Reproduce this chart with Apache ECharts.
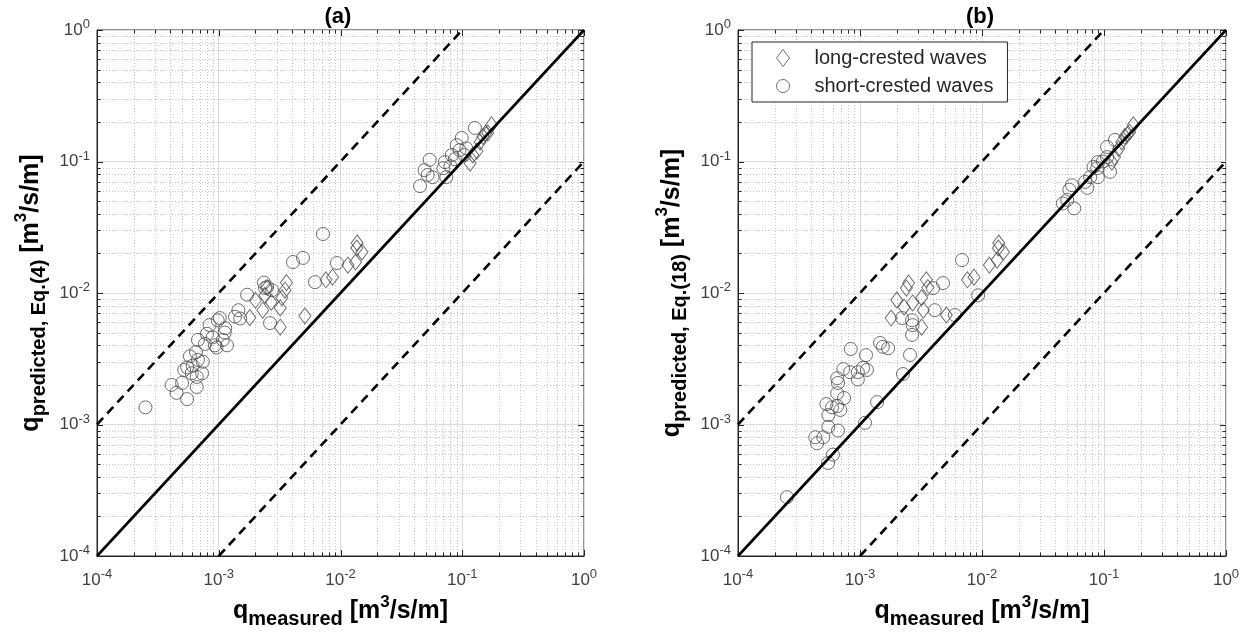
<!DOCTYPE html>
<html>
<head>
<meta charset="utf-8">
<script src="https://cdn.jsdelivr.net/npm/echarts@6/dist/echarts.min.js"></script>
<style>
  html, body { margin: 0; padding: 0; background: #fff; }
  #chart { width: 1251px; height: 644px; }
</style>
</head>
<body>
<div id="chart"></div>
<script>
const FONT = '"Liberation Sans", Arial, Helvetica, sans-serif';

// Axis range and decade ticks (both panels share the same log-log frame)
const AXIS_MIN = 1e-4;
const AXIS_MAX = 1;
const decadeTicks = [1e-4, 1e-3, 1e-2, 1e-1, 1];
const panelTitles = ['(a)', '(b)'];
const predictedLabels = ['Eq.(4)', 'Eq.(18)'];
const seriesNames = ['long-crested waves', 'short-crested waves'];

// Long-crested waves: measured overtopping discharge (same tests in both panels)
const longMeasured = [1.8e-3, 2.0e-3, 2.3e-3, 2.4e-3, 2.5e-3, 2.7e-3, 3.2e-3, 3.2e-3, 3.3e-3, 3.5e-3,
  3.6e-3, 5.1e-3, 7.6e-3, 8.6e-3, 1.15e-2, 1.33e-2, 1.36e-2, 1.37e-2, 1.5e-2,
  0.116, 0.122, 0.132, 0.14, 0.148, 0.155, 0.162, 0.174];
// ... predicted with Eq.(4)
const longPredictedA = [6.5e-3, 8.8e-3, 7.4e-3, 9.6e-3, 1.1e-2, 8.5e-3, 7.7e-3, 5.5e-3, 9.2e-3, 1.05e-2,
  1.2e-2, 6.7e-3, 1.26e-2, 1.32e-2, 1.63e-2, 1.72e-2, 2.2e-2, 2.4e-2, 2.05e-2,
  0.097, 0.112, 0.12, 0.141, 0.155, 0.163, 0.165, 0.19];
// ... predicted with Eq.(18)
const longPredictedB = [6.45e-3, 8.85e-3, 7.8e-3, 1.09e-2, 1.19e-2, 8.4e-3, 9.2e-3, 5.5e-3, 7.4e-3, 1.26e-2,
  1.1e-2, 6.8e-3, 1.26e-2, 1.32e-2, 1.63e-2, 1.78e-2, 2.2e-2, 2.4e-2, 2.05e-2,
  0.099, 0.108, 0.125, 0.141, 0.155, 0.16, 0.167, 0.19];

// Short-crested waves, [measured, predicted Eq.(4)]
const shortCrestedA = [
  [2.5e-4, 1.35e-3], [4.1e-4, 2.0e-3], [4.5e-4, 1.74e-3], [5.0e-4, 2.07e-3], [5.5e-4, 1.56e-3],
  [6.6e-4, 1.93e-3], [5.2e-4, 2.6e-3], [5.5e-4, 2.72e-3], [6.0e-4, 2.45e-3], [6.1e-4, 2.8e-3],
  [6.6e-4, 2.3e-3], [6.75e-4, 3.1e-3], [7.3e-4, 2.45e-3], [7.4e-4, 3.0e-3], [5.8e-4, 3.3e-3],
  [6.5e-4, 3.55e-3], [6.75e-4, 4.4e-3], [7.7e-4, 4.1e-3], [8.0e-4, 4.9e-3], [8.4e-4, 5.7e-3],
  [8.9e-4, 4.6e-3], [9.6e-4, 3.85e-3], [9.8e-4, 6.2e-3], [1.08e-3, 4.4e-3], [1.12e-3, 5.0e-3],
  [1.17e-3, 4.0e-3], [1.02e-3, 6.45e-3], [1.13e-3, 5.4e-3], [9.3e-4, 4.0e-3], [1.36e-3, 6.6e-3],
  [1.45e-3, 7.4e-3], [1.5e-3, 6.4e-3], [1.71e-3, 9.7e-3], [2.4e-3, 1.09e-2], [2.5e-3, 1.11e-2],
  [2.74e-3, 1.05e-2], [2.35e-3, 1.2e-2], [2.64e-3, 5.9e-3], [4.07e-3, 1.72e-2], [4.92e-3, 1.85e-2],
  [6.18e-3, 1.21e-2], [7.18e-3, 2.81e-2], [9.36e-3, 1.69e-2],
  [4.5e-2, 6.5e-2], [4.9e-2, 8.6e-2], [5.2e-2, 7.9e-2], [5.4e-2, 0.103], [5.7e-2, 7.6e-2],
  [7.0e-2, 8.9e-2], [7.2e-2, 9.9e-2], [7.4e-2, 7.6e-2], [8.0e-2, 9.2e-2], [8.2e-2, 0.112],
  [8.7e-2, 0.104], [9.0e-2, 0.133], [9.5e-2, 0.122], [9.9e-2, 0.151], [0.104, 0.112],
  [0.108, 0.126], [0.127, 0.18]
];

// Short-crested waves, [measured, predicted Eq.(18)]
const shortCrestedB = [
  [2.52e-4, 2.8e-4], [4.3e-4, 8.0e-4], [4.45e-4, 7.2e-4], [5.0e-4, 8.0e-4], [5.47e-4, 5.1e-4],
  [6.0e-4, 5.9e-4], [5.5e-4, 9.6e-4], [6.6e-4, 9.0e-4], [5.5e-4, 1.18e-3], [5.3e-4, 1.43e-3],
  [5.9e-4, 1.35e-3], [6.5e-4, 1.38e-3], [6.9e-4, 1.29e-3], [7.4e-4, 1.59e-3], [6.5e-4, 1.73e-3],
  [6.6e-4, 2.07e-3], [6.5e-4, 2.25e-3], [7.3e-4, 2.64e-3], [8.3e-4, 2.5e-3], [9.6e-4, 2.5e-3],
  [9.6e-4, 2.2e-3], [1.14e-3, 2.6e-3], [1.06e-3, 2.7e-3], [8.4e-4, 3.75e-3], [1.12e-3, 3.37e-3],
  [1.38e-3, 1.48e-3], [1.1e-3, 1.03e-3], [1.46e-3, 4.17e-3], [1.54e-3, 3.9e-3], [1.7e-3, 3.8e-3],
  [2.25e-3, 2.42e-3], [2.57e-3, 3.38e-3], [2.67e-3, 4.8e-3], [2.7e-3, 5.7e-3], [2.67e-3, 6.2e-3],
  [2.21e-3, 6.45e-3], [3.97e-3, 1.09e-2], [4.79e-3, 1.19e-2], [4.1e-3, 7.4e-3], [6.0e-3, 6.8e-3],
  [9.3e-3, 9.6e-3], [6.86e-3, 1.78e-2],
  [4.6e-2, 4.8e-2], [5.0e-2, 5.1e-2], [5.46e-2, 6.6e-2], [5.2e-2, 6.1e-2], [5.7e-2, 4.4e-2],
  [7.3e-2, 6.3e-2], [7.0e-2, 7.0e-2], [7.7e-2, 7.6e-2], [8.2e-2, 9.1e-2], [8.9e-2, 9.9e-2],
  [8.9e-2, 7.6e-2], [0.098, 0.1], [0.106, 0.108], [0.106, 0.129], [0.112, 0.0835],
  [0.123, 0.146], [0.088, 0.089]
];

// Perfect agreement and factor-of-10 bands
const parityLine = [[1e-4, 1e-4], [1, 1]];
const upperBand = [[1e-4, 1e-3], [0.1, 1]];
const lowerBand = [[1e-3, 1e-4], [1, 0.1]];

// Tick positions 1..9 x 10^n for the minor grid
const gridTicks = [];
decadeTicks.forEach((d, i) => {
  gridTicks.push(d);
  if (i < decadeTicks.length - 1) for (let k = 2; k <= 9; k++) gridTicks.push(k * d);
});

const zip = (xs, ys) => xs.map((x, i) => [x, ys[i]]);
const crisp = v => Math.round(v) + 0.5;

const AXIS_COLOR = '#262626';
const LABEL_COLOR = '#404040';
const MARK_COLOR = '#4a4a4a';

// Minor dotted grid plus inward ticks on all four sides of the box
function renderFrame(params, api) {
  const v = api.value(0);
  const major = decadeTicks.some(d => Math.abs(v / d - 1) < 1e-6);
  const b = api.coord([v, AXIS_MIN]), t = api.coord([v, AXIS_MAX]);
  const l = api.coord([AXIS_MIN, v]), r = api.coord([AXIS_MAX, v]);
  const x = crisp(b[0]), y = crisp(l[1]);
  const len = major ? 6 : 3.5;
  const children = [];
  if (!major) {
    const dot = { stroke: '#c4c4c4', lineWidth: 1, lineDash: [1, 2] };
    children.push({ type: 'line', shape: { x1: x, y1: b[1], x2: x, y2: t[1] }, style: dot });
    children.push({ type: 'line', shape: { x1: l[0], y1: y, x2: r[0], y2: y }, style: dot });
  }
  const tk = { stroke: AXIS_COLOR, lineWidth: 1 };
  children.push(
    { type: 'line', shape: { x1: x, y1: b[1], x2: x, y2: b[1] - len }, style: tk },
    { type: 'line', shape: { x1: x, y1: t[1], x2: x, y2: t[1] + len }, style: tk },
    { type: 'line', shape: { x1: l[0], y1: y, x2: l[0] + len, y2: y }, style: tk },
    { type: 'line', shape: { x1: r[0], y1: y, x2: r[0] - len, y2: y }, style: tk }
  );
  return { type: 'group', children };
}

const tickLabel = {
  color: LABEL_COLOR,
  fontFamily: FONT,
  formatter: v => '{b|10}{e|' + Math.round(Math.log10(v)) + '}',
  rich: {
    b: { fontFamily: FONT, fontSize: 17, color: LABEL_COLOR, lineHeight: 24 },
    e: { fontFamily: FONT, fontSize: 13, color: LABEL_COLOR, lineHeight: 14, verticalAlign: 'top' }
  }
};

const nameRich = {
  q: { fontFamily: FONT, fontSize: 25, fontWeight: 'bold', color: '#000', lineHeight: 36 },
  s: { fontFamily: FONT, fontSize: 20, fontWeight: 'bold', color: '#000', lineHeight: 19, verticalAlign: 'bottom' },
  p: { fontFamily: FONT, fontSize: 17, fontWeight: 'bold', color: '#000', lineHeight: 21, verticalAlign: 'top' }
};

const grids = [
  { left: 97, top: 30, width: 487, height: 526 },
  { left: 738, top: 30, width: 488, height: 526 }
];

function logAxis(i) {
  return {
    type: 'log', logBase: 10, gridIndex: i, min: AXIS_MIN, max: AXIS_MAX,
    axisLine: { show: true, lineStyle: { color: AXIS_COLOR, width: 1 } },
    axisTick: { show: false },
    minorTick: { show: false },
    splitLine: { show: true, lineStyle: { color: '#dcdcdc', width: 1 } }
  };
}

const xAxes = grids.map((g, i) => Object.assign(logAxis(i), {
  axisLabel: Object.assign({ margin: 12 }, tickLabel),
  name: '{q|q}{s|measured}{q| [m}{p|3}{q|/s/m]}',
  nameLocation: 'middle', nameGap: 28,
  nameTextStyle: { rich: nameRich }
}));

const yAxes = grids.map((g, i) => Object.assign(logAxis(i), {
  axisLabel: Object.assign({ margin: 7 }, tickLabel),
  name: '{q|q}{s|predicted, ' + predictedLabels[i] + '}{q| [m}{p|3}{q|/s/m]}',
  nameLocation: 'middle', nameGap: 48, nameRotate: 90,
  nameTextStyle: { rich: nameRich }
}));

const hollow = { color: 'transparent', borderColor: MARK_COLOR, borderWidth: 1 };

const series = [];
const longPredicted = [longPredictedA, longPredictedB];
const shortCrested = [shortCrestedA, shortCrestedB];
grids.forEach((g, i) => {
  series.push({
    type: 'custom', xAxisIndex: i, yAxisIndex: i, silent: true, z: 1,
    renderItem: renderFrame, data: gridTicks.map(v => [v, v]),
    encode: { x: 0, y: 1 }
  });
  series.push({
    name: seriesNames[0], type: 'scatter', xAxisIndex: i, yAxisIndex: i, z: 3,
    symbol: 'diamond', symbolSize: [12, 16], itemStyle: hollow,
    data: zip(longMeasured, longPredicted[i])
  });
  series.push({
    name: seriesNames[1], type: 'scatter', xAxisIndex: i, yAxisIndex: i, z: 3,
    symbol: 'circle', symbolSize: 13, itemStyle: hollow,
    data: shortCrested[i]
  });
  series.push({
    type: 'line', xAxisIndex: i, yAxisIndex: i, z: 4, showSymbol: false, silent: true,
    lineStyle: { color: '#000', width: 2.6 }, data: parityLine
  });
  [upperBand, lowerBand].forEach(band => series.push({
    type: 'line', xAxisIndex: i, yAxisIndex: i, z: 4, showSymbol: false, silent: true,
    lineStyle: { color: '#000', width: 2.6, type: [9, 6] }, data: band
  }));
});

const chart = echarts.init(document.getElementById('chart'), null, { renderer: 'canvas' });
chart.setOption({
  animation: false,
  backgroundColor: '#fff',
  textStyle: { fontFamily: FONT },
  title: grids.map((g, i) => ({
    text: '{t|' + panelTitles[i] + '}',
    left: g.left + g.width / 2 - 16, top: 4, padding: 0,
    textStyle: {
      rich: { t: { fontFamily: FONT, fontSize: 22, fontWeight: 'bold', color: '#000', lineHeight: 26 } }
    }
  })),
  grid: grids.map(g => Object.assign({ show: true, borderColor: AXIS_COLOR, borderWidth: 1, backgroundColor: '#fff' }, g)),
  xAxis: xAxes,
  yAxis: yAxes,
  legend: {
    left: 752, top: 42, orient: 'vertical', selectedMode: false,
    backgroundColor: '#fff', borderColor: AXIS_COLOR, borderWidth: 1, borderRadius: 0,
    padding: [6, 14, 6, 24], itemGap: 8, itemWidth: 13, itemHeight: 17,
    textStyle: { fontFamily: FONT, fontSize: 20, color: '#262626', lineHeight: 20, padding: [0, 0, 0, 20] },
    data: [
      { name: seriesNames[0], icon: 'diamond', itemStyle: hollow },
      { name: seriesNames[1], icon: 'circle', itemStyle: hollow }
    ]
  },
  series
});
</script>
</body>
</html>
